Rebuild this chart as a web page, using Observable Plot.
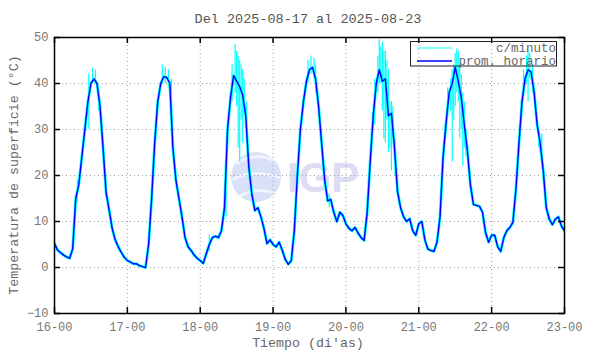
<!DOCTYPE html>
<html>
<head>
<meta charset="utf-8">
<script src="https://cdn.jsdelivr.net/npm/d3@7"></script>
<script src="https://cdn.jsdelivr.net/npm/@observablehq/plot@0.6"></script>
<style>
  html, body { margin: 0; padding: 0; background: #fff; }
  #chart { width: 590px; height: 354px; }
</style>
</head>
<body>
<div id="chart"></div>
<script>
// ---- data ----
const titleText = "Del 2025-08-17 al 2025-08-23";
const xTitle = "Tiempo (di'as)";
const yTitle = "Temperatura de superficie (°C)";
const xTickHours = [0, 24, 48, 72, 96, 120, 144, 168];
const xTickLabels = ["16-00", "17-00", "18-00", "19-00", "20-00", "21-00", "22-00", "23-00"];
const yTicks = [-10, 0, 10, 20, 30, 40, 50];
const seriesNames = ["c/minuto", "prom. horario"];

// hourly average temperature, one value per hour starting 16-00
const hourlyTemp = [
  5.2, 3.8, 3.2, 2.7, 2.3, 2.0, 4.1, 15, 18, 24, 30, 36, 40, 41, 40, 35, 26, 16.3, 12.5, 8.5, 6, 4.5, 3.3, 2.2,
  1.5, 1.2, 0.8, 0.8, 0.4, 0.2, 0.0, 5, 15, 27, 36, 40, 41.5, 41.3, 40, 26, 19, 15, 11, 6.5, 4.5, 3.7, 2.7, 2,
  1.5, 0.9, 3, 5, 6.5, 6.8, 6.5, 8, 13, 30, 37, 41.7, 40.5, 39.3, 37.5, 33, 22, 16, 12.4, 13, 11, 8.5, 5.2, 6,
  5, 4.5, 5.5, 3.8, 1.8, 0.7, 1.5, 8, 20, 30, 36, 40.5, 43, 43.5, 41, 35, 27, 19, 14.5, 14.8, 12, 10, 12, 11.3,
  9.5, 8.5, 8, 8.7, 7.5, 6.5, 5.9, 12, 23, 33, 40, 43, 40.5, 41, 33, 33.5, 26, 16.5, 13, 11, 10, 10.6, 8, 7,
  9.5, 10, 6, 4, 3.7, 3.5, 5.5, 11, 24, 31.5, 38, 40, 43.5, 40.5, 37, 31, 25.5, 18, 13.7, 13.5, 13.3, 12,
  7.6, 5.5, 7, 7, 4.5, 3.5, 6.5, 8, 8.7, 9.8, 17, 27, 36, 41, 43, 42.5, 38, 31, 27, 21, 13, 10.5, 9.3, 10.5, 11, 9,
  8
];

// per-minute extremes (spikes): hour, low, high
const spikeHour = [7.5, 11.3, 12.5, 13.5, 14.5,
  35.5, 36.5, 37.5, 38.5,
  51, 56.5, 58.5, 59.5, 60, 60.5, 61, 61.5, 62, 62.5, 63.3,
  83.5, 84.5, 85.5, 86, 90.5,
  105.5, 106.5, 107, 107.5, 108, 108.5, 109, 109.5, 110, 110.5, 111, 111.5, 112.2,
  129.5, 130.5, 131, 131.5, 132, 132.5, 133, 133.5, 134, 134.5, 135, 135.5,
  154.5, 155.5, 156, 156.5, 157.5, 159.5, 160.5];
const spikeLow = [14, 30, 40, 40, 34,
  40, 40, 39, 37,
  3.5, 11, 36, 38, 35, 26, 23, 32, 27, 33, 28,
  40, 42, 41, 38, 13,
  31, 38, 40, 40, 34, 28, 27, 32, 25, 26, 21, 28, 20,
  33, 34, 23, 32, 35, 38, 36, 28, 30, 22, 26, 24,
  38, 40, 36, 41, 38, 26, 25];
const spikeHigh = [19, 42, 43.3, 43, 39,
  44, 43.5, 43, 41,
  7, 17, 44, 48.5, 47, 46, 45, 44, 43, 41, 36,
  45, 46, 45.5, 44, 16,
  41, 46, 49.5, 48, 49, 47, 47, 45, 43, 36, 36, 35, 28,
  39, 41, 43, 44, 46.5, 47.5, 47, 44, 42, 38, 36, 30,
  43, 46, 47.5, 46.5, 44, 30, 29];

// ---- build tables ----
const hourly = hourlyTemp.map((t, i) => ({h: i, t}));
const spikes = spikeHour.map((h, i) => ({h, lo: spikeLow[i], hi: spikeHigh[i]}));

const FONT = "'Liberation Mono', 'DejaVu Sans Mono', monospace";
const CYAN = "#00ffff", BLUE = "#0000ff";

const chart = Plot.plot({
  width: 590,
  height: 354,
  marginLeft: 54,
  marginRight: 26,
  marginTop: 37,
  marginBottom: 41,
  style: {fontFamily: FONT, fontSize: "12px", color: "#777", background: "white"},
  x: {domain: [0, 168]},
  y: {domain: [-10, 50]},
  marks: [
    Plot.gridX(xTickHours, {stroke: "#a0a0a0", strokeOpacity: 1, strokeDasharray: "1,3"}),
    Plot.gridY(yTicks, {stroke: "#a0a0a0", strokeOpacity: 1, strokeDasharray: "1,3"}),
    Plot.ruleX(spikes, {x: "h", y1: "lo", y2: "hi", stroke: CYAN, strokeWidth: 1.2, clip: true}),
    Plot.line(hourly, {x: "h", y: "t", stroke: CYAN, strokeWidth: 2.9, clip: true}),
    Plot.line(hourly, {x: "h", y: "t", stroke: BLUE, strokeWidth: 1.4, clip: true}),
    Plot.frame({stroke: "black", strokeWidth: 1.5}),
    Plot.ruleX(xTickHours, {x: d => d, insetTop: 270, stroke: "black", strokeWidth: 1.5}),
    Plot.ruleX(xTickHours, {x: d => d, insetBottom: 270, stroke: "black", strokeWidth: 1.5}),
    Plot.ruleY(yTicks, {y: d => d, insetRight: 504, stroke: "black", strokeWidth: 1.5}),
    Plot.ruleY(yTicks, {y: d => d, insetLeft: 504, stroke: "black", strokeWidth: 1.5}),
    Plot.axisX(xTickHours, {tickSize: 0, tickPadding: 9, tickFormat: d => xTickLabels[xTickHours.indexOf(d)], label: null, fill: "#777"}),
    Plot.axisY(yTicks, {tickSize: 0, tickPadding: 6, label: null, fill: "#777"})
  ]
});

document.getElementById("chart").appendChild(chart);

const svg = d3.select(chart);
// watermark behind everything
const wm = svg.insert("g", ":first-child");
wm.append("circle").attr("cx", 256).attr("cy", 177).attr("r", 25).attr("fill", "#d9e1f9");
wm.append("path").attr("d", "M 236 164 Q 256 150 276 162").attr("stroke", "#eef3ff").attr("stroke-width", 3).attr("fill", "none");
wm.append("path").attr("d", "M 232 180 Q 252 168 280 178").attr("stroke", "#eef3ff").attr("stroke-width", 3).attr("fill", "none");
wm.append("path").attr("d", "M 240 196 Q 258 186 276 194").attr("stroke", "#eef3ff").attr("stroke-width", 3).attr("fill", "none");
wm.append("text").attr("x", 287).attr("y", 192).attr("text-anchor", "start")
  .attr("font-family", "'Liberation Sans', Arial, sans-serif")
  .attr("font-weight", "bold").attr("font-size", 42).attr("fill", "#dcdcf2").text("IGP");
svg.insert("rect", ":first-child").attr("width", 590).attr("height", 354).attr("fill", "white");

// titles
svg.append("text").attr("x", 308).attr("y", 23).attr("text-anchor", "middle")
  .attr("font-family", FONT).attr("font-size", 13.5).attr("fill", "#555").text(titleText);
svg.append("text").attr("x", 308).attr("y", 347).attr("text-anchor", "middle")
  .attr("font-family", FONT).attr("font-size", 13.3).attr("fill", "#666").text(xTitle);
svg.append("text").attr("transform", "translate(18,175) rotate(-90)").attr("text-anchor", "middle")
  .attr("font-family", FONT).attr("font-size", 13.3).attr("fill", "#666").text(yTitle);

// legend
const lg = svg.append("g");
lg.append("rect").attr("x", 410.5).attr("y", 41.5).attr("width", 146).attr("height", 24.5)
  .attr("fill", "none").attr("stroke", "#222").attr("stroke-width", 1);
const legendColors = [CYAN, BLUE];
seriesNames.forEach((name, i) => {
  const yy = 48 + i * 13;
  lg.append("line").attr("x1", 417).attr("x2", 452).attr("y1", yy).attr("y2", yy)
    .attr("stroke", legendColors[i]).attr("stroke-width", i ? 1.5 : 1);
  lg.append("text").attr("x", 556).attr("y", yy + 4).attr("text-anchor", "end")
    .attr("font-family", FONT).attr("font-size", 12.5).attr("fill", "#666").text(name);
});
</script>
</body>
</html>
